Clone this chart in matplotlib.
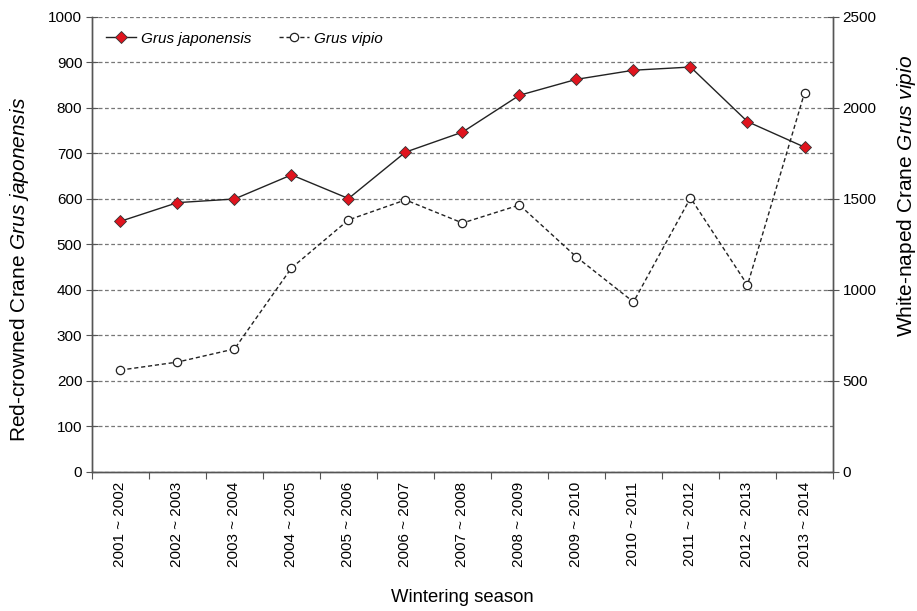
import matplotlib
matplotlib.use("Agg")
import matplotlib.pyplot as plt
from matplotlib.ticker import MultipleLocator

plt.rcParams['font.family'] = ['Liberation Sans', 'DejaVu Sans']
plt.rcParams['mathtext.fontset'] = 'custom'
plt.rcParams['mathtext.rm'] = 'Liberation Sans'
plt.rcParams['mathtext.it'] = 'Liberation Sans:italic'

seasons = ["2001 ~ 2002", "2002 ~ 2003", "2003 ~ 2004", "2004 ~ 2005", "2005 ~ 2006",
           "2006 ~ 2007", "2007 ~ 2008", "2008 ~ 2009", "2009 ~ 2010", "2010 ~ 2011",
           "2011 ~ 2012", "2012 ~ 2013", "2013 ~ 2014"]
japonensis = [551, 592, 600, 653, 601, 703, 747, 828, 863, 883, 890, 770, 714]
vipio = [560, 604, 676, 1121, 1385, 1495, 1368, 1467, 1181, 934, 1506, 1027, 2083]

fig = plt.figure(figsize=(9.17, 6.11), dpi=100)
ax = fig.add_axes([0.1003, 0.2275, 0.8081, 0.7447])
ax2 = ax.twinx()

x = list(range(len(seasons)))
spine_c = '#555555'
ax.set_xlim(-0.5, len(seasons) - 0.5)
ax.set_ylim(0, 1000)
ax2.set_ylim(0, 2500)

for a in (ax, ax2):
    a.spines['top'].set_visible(False)
    for s in ('left', 'right', 'bottom'):
        a.spines[s].set_color(spine_c)
        a.spines[s].set_linewidth(1.0)

ax.yaxis.set_major_locator(MultipleLocator(100))
ax2.yaxis.set_major_locator(MultipleLocator(500))
ax.grid(axis='y', linestyle=(0, (3, 2)), color='#777777', linewidth=0.9)
ax.set_axisbelow(True)

ax.set_xticks([i - 0.5 for i in range(len(seasons) + 1)])
ax.set_xticklabels([])
ax.set_xticks(x, minor=True)
ax.set_xticklabels(seasons, minor=True, rotation=90, fontsize=11)
ax.tick_params(axis='x', which='minor', length=0, pad=7)
ax.tick_params(axis='x', which='major', direction='out', length=5, color=spine_c)
ax.tick_params(axis='y', direction='inout', length=8, color=spine_c, labelsize=11, pad=3)
ax2.tick_params(axis='y', direction='inout', length=8, color=spine_c, labelsize=11, pad=3)

l1, = ax.plot(x, japonensis, color='#222222', linewidth=1.0, marker='D', markersize=6.5,
              markerfacecolor='#e0141e', markeredgecolor='#333333', markeredgewidth=0.6,
              label='Grus japonensis', zorder=5)
l2, = ax2.plot(x, vipio, color='#222222', linewidth=1.0, linestyle=(0, (3, 2)), marker='o',
               markersize=6, markerfacecolor='white', markeredgecolor='#222222',
               markeredgewidth=0.9, label='Grus vipio', zorder=4)

leg = ax.legend(handles=[l1, l2], loc='upper left', ncol=2, frameon=False,
                bbox_to_anchor=(0.0, 0.998), prop={'style': 'italic', 'size': 11},
                handlelength=1.95, columnspacing=1.8, handletextpad=0.35)

ax.set_xlabel('Wintering season', fontsize=13.3)
ax.xaxis.set_label_coords(0.5, -0.258)
ax.set_ylabel('Red-crowned Crane $\\it{Grus\\ japonensis}$', fontsize=15)
ax2.set_ylabel('White-naped Crane $\\it{Grus\\ vipio}$', fontsize=15)
ax.yaxis.set_label_coords(-0.082, 0.445)
ax2.yaxis.set_label_coords(1.083, 0.607)

fig.savefig('out.png', dpi=100)
